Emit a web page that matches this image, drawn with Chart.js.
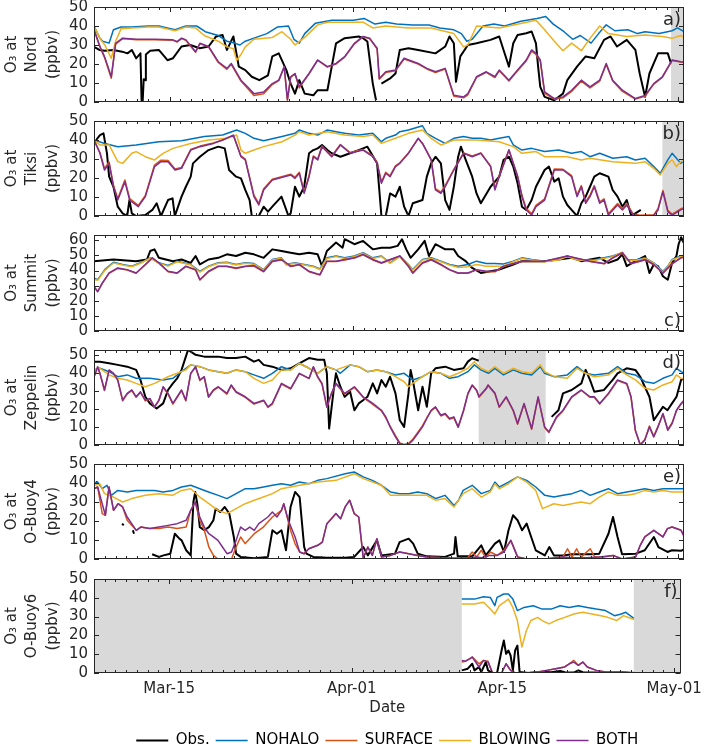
<!DOCTYPE html>
<html>
<head>
<meta charset="utf-8">
<script src="https://cdn.jsdelivr.net/npm/chart.js@4.4.0/dist/chart.umd.min.js"></script>
<style>
  body { margin: 0; background: #fff; width: 709px; height: 756px; position: relative; overflow: hidden; }
  canvas { position: absolute; left: 0; }
</style>
</head>
<body>
<script>
// x values are days since Mar-08 00:00
const labelDays = [7, 24, 38, 54];
const labelNames = ['Mar-15', 'Apr-01', 'Apr-15', 'May-01'];
const dayMin = 0;
const dayMax = 54.6;

const seriesNames = ['Obs.', 'NOHALO', 'SURFACE', 'BLOWING', 'BOTH'];
const seriesColors = ['#000000', '#0072BD', '#D95319', '#EDB120', '#7E2F8E'];

// ---- a) Nord ----
const nordObs = [[0,29],[0.5,27.4],[1.0,27],[1.8,27.4],[2.6,26.5],[3.1,25.6],[3.5,27.4],[3.9,23],[4.3,25.6],[4.4,1],[4.5,0],[4.6,12],[4.75,11.5],[4.8,25],[5.2,27],[6.0,27.4],[6.8,22],[7.3,23],[8.1,29.2],[8.9,30],[9.8,28.3],[10.6,29.2],[11.3,34.5],[11.9,35.3],[12.3,27.4],[12.9,34.5],[13.4,18.6],[14.0,16.8],[14.6,13.3],[15.3,11.5],[16.1,14],[16.5,24],[17.1,25.6],[17.8,16.8],[18.2,9.7],[18.6,4.4],[19.0,11.5],[19.5,4.4],[20.3,3.5],[20.7,6.2],[21.6,6.2],[22.0,18.6],[22.4,30.9],[23.2,33.6],[24.5,34.5],[24.9,33.6],[25.3,31.8],[25.8,9.7],[26.1,0.9],[26.2,null],[26.6,9.7],[27.4,12.4],[27.9,15],[28.3,27.4],[29.1,28.3],[30.0,27.4],[31.6,25.6],[32.5,29.2],[32.9,34.5],[33.3,30.9],[33.5,10.6],[33.9,24],[34.6,30],[35.4,30.9],[36.7,32.7],[37.5,34.5],[37.9,27.4],[38.4,18.6],[38.8,30.9],[39.2,35.3],[40.0,36.2],[40.5,37.1],[40.9,30.9],[41.1,18.6],[41.3,8],[41.7,2.7],[42.6,0.9],[43.4,4.4],[43.8,11.5],[44.7,18.6],[45.5,24],[46.3,23],[47.2,32.7],[47.8,34.5],[48.4,29.2],[49.3,32.7],[50.1,27.4],[50.5,15],[51.0,2.7],[51.4,15],[51.8,20.3],[52.2,25.6],[53.1,25.6],[53.4,20.3]];
const nordNohalo = [[0,40],[0.5,34],[0.8,32],[1.4,31],[1.8,38],[2.5,39.5],[3.5,39.5],[5,40],[6,40],[7.5,38],[8.5,40],[9.5,40],[10.3,37],[11.5,35],[12.3,32],[13,31],[13.5,30],[14,32],[15,34],[16,36],[17,39.5],[18,40],[18.5,33],[19,31],[19.5,36],[20.5,41.5],[22,43],[24,43],[25,44],[26,41],[27,42],[28,41],[29.5,40.5],[31,40.5],[32,39],[33.3,38],[34,36],[34.5,32],[35,33],[36,40],[37,41],[38,40],[39.5,42.5],[41,44],[41.8,45],[42.5,41],[43.5,37],[44.3,33],[45,35],[46,31],[46.7,36],[47.4,40.6],[48.2,37.5],[49.4,38],[50.3,36],[51,37],[52.3,36],[53.5,37.5],[54,39],[54.6,37]];
const nordSurface = [[0,38],[0.55,29],[0.97,23.5],[1.6,12.5],[2.0,30.5],[2.65,33.4],[3.9,32.8],[5.6,32.8],[7.3,32.5],[7.7,31.6],[8.1,33.4],[8.5,32.5],[9.4,26.2],[9.8,30.7],[10.6,29],[11.5,20.8],[12.3,17.2],[12.7,19.8],[13.6,11],[14.2,7.2],[14.8,3.4],[15.7,4.4],[16.5,9.2],[17.1,11.2],[17.6,18.4],[17.9,1],[18.2,13],[18.6,14.8],[19.0,7.4],[19.9,14.8],[20.7,22],[21.6,18.4],[22.4,20],[23.2,23.6],[24.1,30.6],[24.9,34.2],[25.5,33.4],[26.2,28],[26.4,12],[27.0,15.5],[27.9,16.4],[28.7,22.6],[30.0,20],[30.8,17.4],[31.6,15.5],[32.5,17.4],[33.3,3],[34.2,2.2],[34.6,3.8],[35.4,13],[36.3,15.6],[37.1,12.9],[37.5,16.4],[38.4,11],[39.2,16.4],[40.0,21.6],[40.5,26.8],[40.9,25],[41.3,21.6],[41.7,4.6],[42.6,1.5],[43.4,2.2],[44.2,5.6],[45.1,11],[45.9,7.4],[46.8,11],[47.4,19.8],[48.0,11],[48.9,5.6],[50.1,1.5],[51.0,3],[51.8,9.4],[52.6,13],[53.5,21.8],[54.3,21],[54.6,20.8]];
const nordBlowing = [[0,40],[0.6,33],[1.0,30],[1.6,23],[2.0,32],[2.5,38.5],[3.5,39],[5,39.5],[6,39.5],[7.5,37.5],[8.5,39.5],[9.4,39],[10.2,35],[11.5,32],[12.3,29],[12.9,28],[13.2,22],[13.6,25],[14,29],[14.8,33],[16.5,34],[17.4,37],[18.2,33],[18.6,30],[19.5,34],[20.7,40.6],[21.6,42],[24.9,42],[25.8,39],[27,40],[29.1,39],[31.2,39],[33.3,36],[34.2,29],[34.6,30],[35.4,40],[37.5,39],[39.6,41.5],[40.9,43],[41.7,38],[42.6,32],[43.4,27],[44.2,31],[45.1,27],[45.9,33.5],[46.8,40],[47.6,36],[49.3,34.5],[51,35.3],[52.6,34.5],[53.5,33.5],[54.3,35],[54.6,34]];
const nordBoth = [[0,38],[0.55,29.2],[0.97,23.9],[1.6,13.3],[2.0,30.9],[2.65,33.6],[3.9,33],[5.6,33],[7.3,32.7],[7.7,31.8],[8.1,33.6],[8.5,32.7],[9.4,26.5],[9.8,30.9],[10.6,29.2],[11.5,21.2],[12.3,17.7],[12.7,20.3],[13.6,11.5],[14.2,8],[14.8,4.4],[15.7,5.3],[16.5,9.7],[17.1,11.5],[17.6,18.6],[17.9,1.2],[18.2,13.3],[18.6,15],[19.0,8],[19.9,15],[20.7,22.1],[21.6,18.6],[22.4,20.3],[23.2,23.9],[24.1,30.9],[24.9,34.5],[25.5,33.6],[26.2,28.3],[26.4,12.4],[27.0,15.9],[27.9,16.8],[28.7,23],[30.0,20.3],[30.8,17.7],[31.6,15.9],[32.5,17.7],[33.3,3.5],[34.2,2.7],[34.6,4.4],[35.4,13.3],[36.3,15.9],[37.1,13.3],[37.5,16.8],[38.4,11.5],[39.2,16.8],[40.0,22.1],[40.5,27.4],[40.9,25.6],[41.3,22.1],[41.7,5.3],[42.6,1.8],[43.4,2.7],[44.2,6.2],[45.1,11.5],[45.9,8],[46.8,11.5],[47.4,20.3],[48.0,11.5],[48.9,6.2],[50.1,1.8],[51.0,3.5],[51.8,9.7],[52.6,13.3],[53.5,22.1],[54.3,21.2],[54.6,21]];
const nordShade = [[53.4, 54.6]];

// ---- b) Tiksi ----
const tiksiObs = [[0.2,40],[0.55,42.6],[0.88,43.5],[1.2,33],[1.4,20.7],[1.8,15.4],[2.2,4.9],[2.65,1.4],[3.07,0],[3.28,8.4],[3.5,1.4],[3.9,0],[4.75,0.5],[5.4,3.2],[5.8,6.7],[6.2,0],[6.85,8.4],[7.27,9.3],[7.48,0],[8.1,10.2],[8.5,15.4],[8.95,20.7],[9.16,27.7],[9.8,31.2],[10.6,34.7],[11.5,36.5],[12.1,35.6],[12.5,24.2],[13.15,20.7],[13.6,19.8],[14.0,13.7],[14.4,8.4],[14.6,0],[15.25,0],[15.7,4.9],[16.1,2.3],[16.5,4.9],[17.35,10.2],[18.0,0],[18.2,1.4],[18.6,15.4],[19.0,10.2],[19.45,15.4],[19.9,33],[20.3,34.7],[20.7,35.6],[21.1,37.4],[21.6,34.7],[22.0,33],[22.8,31.2],[23.7,33],[24.5,34.7],[25.3,36.5],[26.2,27.7],[26.6,0],[27.0,0],[27.4,11.9],[27.9,10.2],[28.3,15.4],[28.7,4.9],[29.1,0],[29.5,6.7],[30.4,8.4],[30.8,20.7],[31.2,27.7],[31.6,31.2],[32.1,27.7],[32.5,8.4],[32.9,3.2],[33.3,15.4],[33.7,31.2],[33.95,36.5],[34.4,29.5],[35.0,20.7],[35.4,11.9],[35.8,6.7],[36.7,15.4],[37.5,20.7],[37.9,29.5],[38.4,31.2],[38.8,26],[39.2,17.2],[39.6,4.9],[40.0,3.2],[40.5,8.4],[40.9,15.4],[41.7,24.2],[42.1,26],[42.6,18.1],[43.0,19.8],[43.4,10.2],[43.8,5.8],[44.2,3.2],[44.7,0],[45.1,6.7],[45.5,10.2],[45.9,15.4],[46.3,20.7],[46.8,22.5],[47.6,20.7],[48.0,13.7],[48.45,10.2],[48.9,4.9],[49.3,8.4],[49.7,0.5],[50.1,1.4],[50.6,3.2]];
const tiksiNohalo = [[0,40],[1.0,38.2],[2.2,36.5],[3.9,37.4],[6.0,39.1],[8.1,39.6],[10.2,41.8],[11.9,42.6],[13.2,45.3],[14.0,43.5],[14.8,40.9],[15.7,39.6],[17.4,41.8],[18.6,43.5],[19.0,45.3],[19.9,43.5],[20.7,42.6],[21.6,45.3],[22.4,44.4],[23.2,43.5],[24.5,42.6],[25.8,43.5],[26.6,39.1],[27.0,40.9],[27.9,42.6],[28.3,44.4],[29.1,45.3],[30.4,47.5],[30.8,43.5],[31.6,40.9],[32.5,38.2],[33.3,40.9],[34.2,41.8],[35.0,40.9],[35.8,40.9],[36.7,40],[37.5,40.9],[38.4,41.8],[38.8,37.4],[39.6,34.7],[40.5,35.6],[41.7,33.9],[43.0,34.7],[44.2,33],[45.1,33.9],[45.9,31.2],[46.8,33],[48.0,30.4],[49.3,31.2],[50.1,29.5],[51.0,30.4],[51.8,26],[52.4,22.5],[53.1,29.5],[53.5,33],[53.9,30.4],[54.3,27.7],[54.6,29]];
const tiksiSurface = [[0,40],[0.55,33.4],[0.97,25],[1.4,28.4],[1.8,16.2],[2.2,9.2],[2.86,19],[3.3,9.2],[4.1,5.6],[4.75,10.8],[5.6,26.8],[6.2,29.4],[6.85,29.2],[7.5,24.8],[8.1,25.6],[8.95,35],[9.8,36.8],[11.05,38.4],[11.9,40],[12.9,42.4],[13.6,31.6],[14.0,30],[14.8,11],[15.25,6.6],[15.7,14.4],[16.5,19.4],[18.2,22],[18.6,20.4],[19.0,23],[19.45,12.6],[19.9,21.2],[20.3,31.6],[20.7,30],[21.1,36.8],[22.0,31.6],[22.8,37.6],[23.7,33.4],[24.9,35],[25.8,31.6],[26.2,28.2],[26.6,18],[27.0,23],[27.4,21.2],[27.9,26.4],[28.3,28],[29.1,33.2],[30.0,40.8],[30.4,38.2],[31.2,29.8],[31.6,14.4],[32.1,12.6],[32.5,16],[33.3,24.6],[34.2,33.2],[35.0,31.6],[35.8,33.2],[36.7,26.4],[37.1,14.4],[37.5,21.2],[38.4,34.8],[39.2,21.2],[39.6,11],[40.0,4],[40.5,1.2],[40.9,5.6],[41.7,9],[42.6,24.8],[43.4,24.6],[44.2,21.2],[44.7,11],[45.1,16],[45.5,7.4],[45.9,11],[46.3,16],[46.8,7.4],[47.2,9],[47.6,1.2],[48.45,6.6],[48.9,4],[49.3,6.6],[49.9,1],[50.5,0.4],[51.8,0.6],[52.2,4],[52.65,13.4],[53.1,3],[53.5,1],[54.3,3.8],[54.6,4.4]];
const tiksiBlowing = [[0,40],[0.55,37.4],[1.4,37.4],[2.2,28.6],[2.65,27.7],[3.5,33],[3.9,33.9],[4.75,31.2],[5.6,29.5],[6.4,33],[7.3,35.6],[8.95,38.2],[10.6,40],[12.3,40.9],[13.2,42.6],[13.6,34.7],[14.0,33],[14.8,34.7],[15.7,36.5],[17.4,39.1],[18.6,42.6],[19.0,44.4],[19.9,42.6],[21.6,44.4],[23.2,42.6],[24.9,41.8],[25.8,42.6],[26.6,38.2],[27.9,40.9],[29.1,43.5],[30.4,45.3],[31.2,40.9],[32.1,37.4],[33.3,40],[35.4,40],[37.5,39.1],[38.8,36.5],[39.6,33],[40.9,33.9],[41.7,31.2],[43.8,31.2],[45.1,29.5],[45.9,30.4],[48.0,28.6],[50.1,27.7],[51.0,28.6],[51.8,25.1],[52.4,21.6],[53.1,27.7],[53.5,29.5],[53.9,26],[54.3,28.6],[54.6,29]];
const tiksiBoth = [[0,40],[0.55,33],[0.97,24.2],[1.4,27.7],[1.8,15.4],[2.2,8.4],[2.86,18.1],[3.3,8.4],[4.1,4.9],[4.75,10.2],[5.6,26],[6.2,28.6],[6.85,28.6],[7.5,24.2],[8.1,25.1],[8.95,34.7],[9.8,36.5],[11.05,38.2],[11.9,40],[12.9,42.6],[13.6,31.2],[14.0,29.5],[14.8,10.2],[15.25,5.8],[15.7,13.7],[16.5,18.9],[18.2,21.6],[18.6,19.8],[19.0,22.5],[19.45,11.9],[19.9,20.7],[20.3,31.2],[20.7,29.5],[21.1,36.5],[22.0,31.2],[22.8,37.4],[23.7,33],[24.9,34.7],[25.8,31.2],[26.2,27.7],[26.6,17.2],[27.0,22.5],[27.4,20.7],[27.9,26],[28.3,27.7],[29.1,33],[30.0,40.9],[30.4,38.2],[31.2,29.5],[31.6,13.7],[32.1,11.9],[32.5,15.4],[33.3,24.2],[34.2,33],[35.0,31.2],[35.8,33],[36.7,26],[37.1,13.7],[37.5,20.7],[38.4,34.7],[39.2,20.7],[39.6,10.2],[40.0,3.2],[40.5,0.5],[40.9,4.9],[41.7,8.4],[42.6,24.2],[43.4,24.2],[44.2,20.7],[44.7,10.2],[45.1,15.4],[45.5,6.7],[45.9,10.2],[46.3,15.4],[46.8,6.7],[47.2,8.4],[47.6,0.5],[48.45,5.8],[48.9,3.2],[49.3,5.8],[49.9,0.5],[50.5,0],[51.8,0.3],[52.2,3.2],[52.65,12.8],[53.1,2.3],[53.5,0.5],[54.3,3.2],[54.6,4]];
const tiksiShade = [[52.6, 54.6]];

// ---- c) Summit ----
const summitObs = [[0,46.2],[1.8,47.3],[3.9,46.2],[4.9,47.3],[5.2,52.9],[5.6,54],[6.0,48.4],[7.3,46.2],[8.1,47.3],[8.95,45.1],[9.4,49.6],[9.8,44],[10.6,47.3],[11.5,48.4],[12.3,50.7],[13.15,49.6],[14.0,51.8],[14.8,50.7],[15.7,48.4],[16.5,54],[17.35,52.9],[18.2,51.8],[19.0,50.7],[19.9,51.8],[20.7,50.7],[21.1,42.9],[21.55,52.9],[22.4,58.5],[23.0,55.1],[23.2,60.7],[24.1,57.4],[24.9,59.6],[25.8,54],[26.6,55.1],[27.4,55.1],[28.1,56.3],[28.5,60.7],[28.9,54],[29.3,48.4],[30.0,54],[30.6,59.6],[31.0,49.6],[31.6,57.4],[32.5,54],[33.3,54],[33.7,49.6],[34.4,46.2],[35.0,41.7],[35.8,38.4],[36.7,39.5],[37.5,40.6],[38.8,44],[39.6,46.2],[40.9,46.2],[41.7,46.2],[43.0,47.3],[44.2,48.4],[45.1,46.2],[45.9,47.3],[46.8,48.4],[47.6,45.1],[48.45,47.3],[48.9,50.7],[49.3,42.9],[50.1,46.2],[51.0,49.6],[51.4,38.4],[51.8,44],[52.2,42.9],[52.65,36.2],[53.1,33.9],[53.5,45.1],[53.9,49.6],[54.1,57.4],[54.33,62],[54.6,58]];
const summitNohalo = [[0,35],[0.34,34],[1.0,40.6],[1.8,45.5],[2.65,44],[3.5,42.9],[4.3,45.1],[5.2,48.4],[6.0,45.1],[6.85,43.3],[7.7,46.2],[8.95,44],[9.8,39.5],[10.6,42.9],[11.5,45.1],[12.3,45.5],[13.15,44],[14.0,45.1],[14.8,44.6],[15.7,40.6],[16.5,47.3],[17.35,48.4],[17.8,44],[18.6,45.1],[19.45,44],[20.3,42.9],[20.9,41.1],[21.55,48.4],[22.4,49.6],[23.2,48.4],[24.1,49.6],[24.9,51.8],[25.8,48.4],[26.6,49.6],[27.4,45.1],[28.3,49.6],[29.1,44],[29.5,40.6],[30.4,47.3],[31.2,48.4],[32.1,46.2],[32.9,44],[33.7,42.9],[34.6,44],[35.4,46.2],[36.3,44.6],[37.1,44.6],[37.9,44.4],[38.8,46.2],[39.6,48.4],[40.5,47.3],[41.7,46.2],[43.0,47.3],[43.8,49.6],[44.7,47.3],[45.5,46.9],[46.3,46.9],[47.2,48.4],[48.0,49.6],[48.9,51.8],[49.3,47.3],[50.1,46.9],[51.0,48.4],[51.8,45.1],[52.65,39.5],[53.1,42.9],[53.5,47.3],[54.3,49.6],[54.6,50]];
const summitSurface = [[0,29.2],[0.34,26],[0.76,31.4],[1.4,38.2],[2.2,41.4],[3.07,40.4],[3.9,38.2],[4.75,43.8],[5.4,48.2],[6.0,44.8],[6.85,39.2],[7.7,38.2],[8.5,42.6],[9.4,40.4],[9.8,33.8],[10.6,39.2],[11.5,42.6],[12.3,42.6],[13.15,41.4],[14.0,42.6],[14.8,43],[15.7,39.2],[16.5,46],[17.35,47],[18.2,42.6],[19.0,43.8],[19.9,39.2],[20.9,37],[21.55,46],[22.4,46],[23.2,47],[24.1,48.2],[24.9,50.4],[25.8,47],[26.6,44.8],[27.4,47],[28.3,49.4],[29.1,42.6],[29.5,38.2],[30.4,44.8],[31.2,47],[32.1,43.8],[32.9,40.4],[33.7,38.2],[34.6,38.2],[35.4,40.4],[36.3,39.2],[37.1,39.2],[37.9,42.6],[38.8,44.4],[39.6,46],[41.7,46],[43.8,49.4],[45.9,46],[47.2,44.4],[48.0,48.2],[48.9,51.6],[49.7,44.4],[51.0,47],[51.8,43.8],[52.65,38.2],[53.5,44.4],[54.3,48.2],[54.6,48.8]];
const summitBlowing = [[0,34],[0.34,33.5],[1.0,40],[1.8,45],[2.65,43.6],[3.5,42.5],[4.3,44.8],[5.2,48.2],[6.0,44.8],[6.85,42.9],[7.7,45.8],[8.95,43.6],[9.8,39],[10.6,42.5],[11.5,44.8],[12.3,45.1],[13.15,43.6],[14.0,44.8],[14.8,44.2],[15.7,40.2],[16.5,47],[17.35,48.2],[17.8,43.6],[18.6,44.8],[19.45,43.6],[20.3,42.5],[20.9,40.6],[21.55,48],[22.4,49.2],[23.2,48],[24.1,49.2],[24.9,51.4],[25.8,48],[26.6,49.2],[27.4,44.8],[28.3,49.2],[29.1,43.6],[29.5,40.2],[30.4,47],[31.2,48],[32.1,45.8],[32.9,43.6],[33.7,42],[34.6,42.5],[35.4,44],[36.3,42.9],[37.1,42.9],[37.9,43],[38.8,45.8],[39.6,48],[40.5,47],[41.7,45.8],[43.0,47],[43.8,49.2],[44.7,47],[45.5,46.6],[46.3,46.6],[47.2,48],[48.0,49.2],[48.9,52.2],[49.3,47],[50.1,46.6],[51.0,48],[51.8,44.8],[52.65,39],[53.1,42.5],[53.5,47],[54.3,49.2],[54.6,49.6]];
const summitBoth = [[0,29.5],[0.34,26.1],[0.76,31.7],[1.4,38.4],[2.2,41.7],[3.07,40.6],[3.9,38.4],[4.75,44],[5.4,48.4],[6.0,45.1],[6.85,39.5],[7.7,38.4],[8.5,42.9],[9.4,40.6],[9.8,33.9],[10.6,39.5],[11.5,42.9],[12.3,42.9],[13.15,41.7],[14.0,42.9],[14.8,43.3],[15.7,39.5],[16.5,46.2],[17.35,47.3],[18.2,42.9],[19.0,44],[19.9,39.5],[20.9,37.3],[21.55,46.2],[22.4,46.2],[23.2,47.3],[24.1,48.4],[24.9,50.7],[25.8,47.3],[26.6,45.1],[27.4,47.3],[28.3,49.6],[29.1,42.9],[29.5,38.4],[30.4,45.1],[31.2,47.3],[32.1,44],[32.9,40.6],[33.7,38.4],[34.6,38.4],[35.4,40.6],[36.3,39.5],[37.1,39.5],[37.9,42.9],[38.8,44.6],[39.6,46.2],[41.7,46.2],[43.8,49.6],[45.9,46.2],[47.2,44.6],[48.0,48.4],[48.9,51.8],[49.7,44.6],[51.0,47.3],[51.8,44],[52.65,38.4],[53.5,44.6],[54.3,48.4],[54.6,49]];
const summitShade = [];

// ---- d) Zeppelin ----
const zepObs = [[0,46.5],[0.55,46.5],[1.4,45.6],[2.2,44.7],[3.07,43.7],[3.9,41.9],[4.3,36.3],[4.75,26.9],[5.17,23.2],[5.6,21.3],[5.8,20.4],[6.4,23.2],[6.85,30.7],[7.3,34.4],[7.7,37.2],[8.1,41.9],[8.5,49.3],[8.7,53],[8.95,52.1],[9.4,50.3],[10.2,49.3],[11.5,49.3],[12.3,48.5],[13.15,48.5],[14.0,49.3],[14.8,46.5],[15.25,47.5],[15.7,44.7],[16.5,43.7],[17.35,41.9],[18.2,42.8],[19.0,45.6],[19.9,48.5],[20.7,47.6],[21.3,47.6],[21.55,40],[21.76,9.2],[21.97,20],[22.18,30.7],[22.39,40],[22.8,32.5],[23.2,26.9],[23.7,29.7],[24.1,19.4],[24.5,23.2],[24.9,25],[25.3,26.9],[25.8,34.4],[26.2,28.8],[26.6,36.3],[27.0,32.5],[27.4,38.1],[27.9,28.8],[28.3,13.8],[28.7,10.1],[29.1,28.8],[29.3,41.9],[29.5,36.3],[30.0,19.4],[30.4,32.5],[30.8,21.3],[31.2,40],[31.6,42.8],[32.5,43.7],[33.3,41.9],[34.2,42.8],[34.6,46.5],[35.0,48.4],[35.4,47.5],[35.6,47],[35.65,null],[42.35,15.7],[42.98,19.4],[43.4,28.8],[44.2,30.7],[45.1,34.4],[45.5,41.9],[45.9,36.3],[46.3,29.7],[47.2,30.7],[48.0,36.3],[48.45,40],[49.3,42.8],[50.1,41.9],[50.55,38.1],[50.97,32.5],[51.4,26.9],[51.81,13.8],[52.23,17.6],[52.65,21.3],[53.07,19.4],[53.49,23.2],[53.91,26.9],[54.33,36.3],[54.6,37]];
const zepNohalo = [[0,41.9],[0.55,42.8],[1.4,40.9],[2.2,38.1],[3.07,39.1],[3.9,37.2],[5.17,37.2],[6.4,36.3],[7.3,37.2],[8.1,40.9],[8.95,44.7],[9.8,43.7],[10.6,41.9],[11.5,40.9],[12.3,40],[13.15,41.9],[14.0,40.9],[14.8,39.1],[15.7,37.2],[16.5,40],[17.35,43.7],[18.2,41.9],[19.0,45.6],[19.9,42.8],[20.7,40],[21.55,43.7],[22.4,41.9],[22.8,40],[23.7,44.7],[24.5,43.7],[25.3,40.9],[26.2,41.9],[27.0,40.9],[27.9,39.1],[28.7,40],[29.5,36.3],[30.4,38.1],[31.2,40.9],[32.1,40],[32.9,37.2],[33.7,38.1],[34.6,40.9],[35.2,44.7],[35.8,41.9],[36.5,40],[37.1,42.8],[37.9,39.1],[38.8,41.9],[39.6,40],[40.5,39.1],[41.3,43.7],[41.7,40],[42.6,38.1],[43.8,39.1],[44.7,43.7],[45.5,40],[46.3,39.1],[47.6,40],[48.45,43.7],[49.3,40],[50.1,39.1],[51.0,35.3],[51.8,34.4],[52.65,37.2],[53.5,39.1],[53.9,42.8],[54.33,40.9],[54.6,40]];
const zepSurface = [[0,37.8],[0.34,43.4],[0.55,39.8],[0.97,30.4],[1.4,41.6],[1.8,39.8],[2.2,36],[2.65,24.6],[3.07,28.4],[3.5,30.4],[3.9,26.6],[4.3,29.4],[4.75,24.6],[5.17,25.6],[5.6,21],[6.0,24.6],[6.4,32.2],[6.85,28.4],[7.3,22.8],[7.7,26.6],[8.1,30.4],[8.5,24.6],[8.95,39.8],[9.4,43.4],[9.8,36],[10.2,37.8],[10.6,26.6],[11.05,30.4],[11.5,32.2],[12.3,28.4],[12.7,33.2],[13.15,29.4],[14.0,26.6],[14.8,22.8],[15.7,24.6],[16.1,21],[16.5,22.8],[17.35,34],[18.2,31.2],[19.0,39.8],[19.9,37],[20.3,43.4],[20.7,37.8],[21.1,34],[21.55,21],[21.97,28.4],[22.39,34],[23.2,28.4],[24.1,32.2],[24.9,26.6],[25.8,22.6],[26.6,19],[27.0,15.2],[27.4,10.6],[27.9,5.2],[28.3,1.2],[28.7,0.3],[29.1,0.8],[29.5,3.2],[29.96,7],[30.4,10.8],[30.8,15.2],[31.2,19],[31.6,21],[32.1,16.2],[32.5,17.2],[32.9,14.4],[33.3,15.2],[33.7,9.8],[34.2,19],[34.6,28.4],[35.0,33.2],[35.4,30.4],[35.63,26.6],[36.3,31.2],[36.47,33.2],[37.1,28.6],[37.5,21],[38.15,26.6],[38.8,19],[39.2,11.6],[39.8,22.8],[40.5,8.8],[41.1,26.6],[41.7,9.8],[42.1,7],[42.8,15.2],[43.4,19],[44.2,26.6],[45.1,30.4],[45.9,26.6],[46.3,26.6],[46.8,22.8],[47.6,28.4],[48.45,36],[49.3,34],[49.7,26.6],[50.1,8],[50.55,0.3],[50.97,3],[51.4,10.6],[51.8,4.8],[52.2,10.6],[52.65,17.2],[53.1,8.6],[53.5,12.4],[53.9,19],[54.33,22.8],[54.6,24.6]];
const zepBlowing = [[0,41.9],[0.55,42.8],[1.4,39.1],[2.2,37.2],[3.07,36.3],[3.9,34.4],[4.75,32.5],[5.6,34.4],[6.85,38.1],[7.7,40],[8.5,41.9],[8.95,44.7],[9.8,43.7],[10.6,41.9],[11.5,40.9],[12.3,40],[13.15,41.9],[14.0,40.9],[14.8,37.2],[15.7,34.4],[16.5,36.3],[17.35,41.9],[18.2,41.9],[19.0,45.6],[19.9,42.8],[20.7,40],[21.55,43.7],[22.4,41.9],[23.7,44.7],[24.5,43.7],[25.3,40.9],[26.2,41.9],[27.0,40.9],[27.9,38.1],[28.7,35.3],[29.1,32.5],[29.5,34.4],[30.4,38.1],[31.2,40.9],[32.1,40],[32.9,38.1],[33.7,40],[34.6,42.8],[35.2,46.5],[35.8,42.8],[36.5,40.9],[37.1,43.7],[37.9,40],[38.8,42.8],[39.6,40.9],[40.5,40],[41.3,44.7],[41.7,40.9],[42.6,38.1],[43.8,37.2],[44.7,42.8],[45.5,40],[46.3,38.1],[47.6,39.1],[48.45,42.8],[49.3,39.1],[50.1,36.3],[51.0,31.6],[51.8,30.7],[52.65,33.5],[53.5,35.3],[53.9,39.1],[54.33,37.2],[54.6,37]];
const zepBoth = [[0,38.1],[0.34,43.7],[0.55,40],[0.97,30.7],[1.4,41.9],[1.8,40],[2.2,36.3],[2.65,25],[3.07,28.8],[3.5,30.7],[3.9,26.9],[4.3,29.7],[4.75,25],[5.17,26],[5.6,21.3],[6.0,25],[6.4,32.5],[6.85,28.8],[7.3,23.2],[7.7,26.9],[8.1,30.7],[8.5,25],[8.95,40],[9.4,43.7],[9.8,36.3],[10.2,38.1],[10.6,26.9],[11.05,30.7],[11.5,32.5],[12.3,28.8],[12.7,33.5],[13.15,29.7],[14.0,26.9],[14.8,23.2],[15.7,25],[16.1,21.3],[16.5,23.2],[17.35,34.4],[18.2,31.6],[19.0,40],[19.9,37.2],[20.3,43.7],[20.7,38.1],[21.1,34.4],[21.55,21.3],[21.97,28.8],[22.39,34.4],[23.2,28.8],[24.1,32.5],[24.9,26.9],[25.8,23.2],[26.6,19.4],[27.0,15.7],[27.4,10.1],[27.9,4.5],[28.3,0.7],[28.7,0],[29.1,0.4],[29.5,2.6],[29.96,6.4],[30.4,10.1],[30.8,14.8],[31.2,19.4],[31.6,21.3],[32.1,16.6],[32.5,17.6],[32.9,14.8],[33.3,15.7],[33.7,10.1],[34.2,19.4],[34.6,28.8],[35.0,33.5],[35.4,30.7],[35.63,27],[36.3,31.6],[36.47,33.5],[37.1,29],[37.5,21.3],[38.15,26.9],[38.8,19.4],[39.2,12],[39.8,23.2],[40.5,9.2],[41.1,26.9],[41.7,10.1],[42.1,7.3],[42.8,15.7],[43.4,19.4],[44.2,26.9],[45.1,30.7],[45.9,26.9],[46.3,26.9],[46.8,23.2],[47.6,28.8],[48.45,36.3],[49.3,34.4],[49.7,26.9],[50.1,8.2],[50.55,0],[50.97,2.6],[51.4,10.1],[51.8,4.5],[52.2,10.1],[52.65,17.6],[53.1,8.2],[53.5,12],[53.9,19.4],[54.33,23.2],[54.6,25]];
const zepShade = [[35.6, 41.8]];

// ---- e) O-Buoy4 ----
const buoy4Obs = [[0.2,40.5],[0.25,39.6],[0.3,null],[2.6,18.6],[2.75,17.7],[2.8,null],[3.6,15.1],[3.7,13.3],[3.75,null],[5.38,2.5],[6.01,1.1],[6.43,1.9],[7.06,2.8],[7.48,13.3],[7.9,10.7],[8.11,9.8],[8.53,4.6],[8.95,1.9],[9.2,30],[9.37,35.3],[9.58,28.2],[9.79,16.8],[10.21,15.1],[10.63,16.8],[11.05,20.4],[11.26,26.5],[11.68,24.7],[12.1,27.4],[12.52,23.9],[12.94,11.6],[13.15,2.8],[13.57,1.1],[14.83,0.4],[16.09,1.1],[16.51,15.1],[16.93,13.3],[17.35,15.1],[17.77,4.6],[18.19,27.4],[18.61,35.3],[19.03,32.6],[19.45,6.3],[19.66,2.8],[20.29,1.1],[21.55,0.7],[23.24,0.7],[24.08,1.1],[24.92,6.3],[25.34,1.9],[26.18,9.8],[26.6,1.9],[27.86,2.8],[28.28,8.9],[29.12,10.7],[29.54,8.1],[29.96,2.8],[30.8,1.4],[32.48,1.1],[33.32,2.8],[33.45,11.6],[33.66,1.4],[35.0,1.4],[35.84,7.2],[36.26,1.9],[37.1,8.1],[37.52,9.8],[37.94,3.7],[38.36,15.1],[38.78,23],[39.2,20.4],[39.62,15.1],[40.04,18.6],[40.46,11.6],[40.88,4.6],[41.72,1.9],[42.14,6.3],[42.56,1.9],[43.4,1.9],[44.24,2.5],[45.92,2.5],[46.76,2.8],[47.61,13.3],[48.03,22.1],[48.45,11.6],[48.87,2.5],[50.13,2.8],[50.97,4.6],[51.81,11.6],[52.23,6.3],[53.07,3.7],[53.49,4.6],[54.33,4.3],[54.6,5]];
const buoy4Nohalo = [[0,39.6],[0.34,40.5],[0.76,37],[1.2,38.8],[1.6,33.5],[2.2,36.1],[3.07,35.3],[3.9,36.1],[4.75,36.1],[5.6,36.1],[6.4,35.3],[7.3,36.1],[8.1,37.9],[8.95,38.8],[9.8,37],[10.6,35.3],[11.5,33.5],[12.3,31.8],[13.15,34.4],[14.0,37],[14.8,37],[15.7,37.9],[16.5,38.8],[17.35,39.6],[18.2,38.8],[19.0,40.5],[19.9,39.6],[20.7,41.4],[21.55,42.3],[23.24,44.9],[24.08,45.8],[24.92,43.2],[25.76,41.4],[26.6,38.8],[27.44,35.3],[28.28,34.4],[29.12,34.4],[29.96,35.3],[30.8,34.4],[31.64,31.8],[32.48,33.5],[33.32,28.2],[33.74,30.9],[34.16,36.1],[35.0,38.8],[35.84,34.4],[36.68,36.1],[37.1,40.5],[37.52,37.9],[38.36,40.5],[39.2,43.2],[40.04,41.4],[40.88,37.9],[41.72,33.5],[42.56,32.6],[43.4,33.5],[44.24,34.4],[45.08,36.1],[45.92,33.5],[46.76,35.3],[47.61,37],[48.45,34.4],[49.29,35.3],[50.13,36.1],[50.97,37],[51.81,36.1],[52.65,37],[53.49,37],[54.33,37],[54.6,37]];
const buoy4Surface = [[0,37],[0.34,37.9],[0.76,23.9],[1.05,23],[1.39,37.9],[1.81,25.6],[2.23,29.1],[2.65,27.4],[3.07,20.4],[3.49,17.7],[3.91,15.1],[4.33,16.8],[5.17,16],[6.01,16],[6.85,16.8],[7.69,16],[8.53,16.8],[8.95,25.6],[9.37,30],[9.79,20.4],[10.21,15.1],[10.63,6.3],[11.05,1.9],[11.47,0],[12.31,0],[12.73,0],[13.15,6.3],[13.57,11.6],[13.99,8.1],[14.83,13.3],[15.67,16.8],[16.51,22.1],[17.35,25.6],[17.56,29.1],[18.19,15.1],[18.61,8],[19.03,3.7],[19.45,2.8],[19.87,5.4],[20.71,7.2],[21.13,8.9],[21.55,18.6],[21.97,21.2],[22.39,23.9],[22.82,21.2],[23.24,27.4],[23.66,30.9],[24.08,23.9],[24.5,22.1],[24.92,0.4],[25.34,6.3],[25.76,1.9],[26.18,10.7],[26.6,1.1],[27.44,1.9],[28.28,3.7],[29.12,2.8],[29.96,1.9],[30.8,1.1],[33.32,0.4],[34.58,0.7],[35.0,3.7],[35.42,1.1],[35.84,4.6],[36.26,0.7],[36.68,3.7],[37.31,1.9],[37.94,4.6],[38.57,9.8],[39.2,1.1],[40.04,0],[41.72,0],[43.4,1.1],[43.82,5.4],[44.24,1],[44.66,5.4],[45.08,1],[45.92,5.4],[46.34,1],[47.18,1.1],[48.03,1.9],[48.87,0],[50.13,1.1],[50.55,7.2],[50.97,11.6],[51.81,15.1],[52.65,11.6],[53.07,16],[53.49,16.8],[54.33,15.1],[54.6,12]];
const buoy4Blowing = [[0,38.8],[0.55,39.6],[0.97,34.4],[1.8,32.6],[2.65,30],[3.5,31.8],[4.75,33.5],[6.0,34.4],[7.27,33.5],[8.11,36.1],[8.95,37],[9.79,32.6],[10.63,29.1],[11.47,25.6],[12.31,23.9],[13.15,26.5],[13.99,29.1],[14.83,30.9],[15.67,32.6],[16.51,34.4],[17.35,37],[19.03,38.8],[20.71,40.5],[22.39,41.4],[24.08,44.9],[24.92,42.3],[26.6,38.8],[27.44,33.5],[29.12,33.5],[30.8,33.5],[31.64,30.9],[32.48,31.8],[33.32,27.4],[34.16,34.4],[35.0,37],[35.84,32.6],[36.68,35.3],[37.1,39.6],[37.52,37],[38.36,39.6],[39.2,43.2],[40.04,40.5],[40.88,36.1],[41.51,26.5],[42.56,29.1],[43.4,28.2],[44.24,29.1],[45.08,30],[45.92,29.1],[46.76,32.6],[47.61,35.3],[48.45,33.5],[49.29,33.5],[50.13,34.4],[50.97,36.1],[51.81,35.3],[52.65,36.1],[53.49,35.3],[54.33,35.3],[54.6,35.3]];
const buoy4Both = [[0,37],[0.34,37.9],[0.76,29.1],[1.05,23],[1.39,37.9],[1.81,25.6],[2.23,29.1],[2.65,27.4],[3.07,22.1],[3.49,18.6],[3.91,15.1],[4.33,16.8],[5.17,16],[6.01,16.8],[6.85,17.7],[7.69,18.6],[8.53,20.4],[8.95,25.6],[9.37,30],[9.79,22.1],[10.21,16.8],[10.63,13.3],[11.05,11.6],[11.47,9.8],[11.89,6.3],[12.31,2.8],[12.73,3.7],[13.15,9.8],[13.57,16.8],[13.99,15.1],[14.41,16.8],[14.83,15.1],[15.25,18.6],[16.09,22.1],[16.51,24.7],[16.93,22.1],[17.35,25.6],[17.56,29.1],[17.98,20.4],[18.61,11.6],[19.03,3.7],[19.45,2.8],[19.87,5.4],[20.71,7.2],[21.13,8.9],[21.55,18.6],[21.97,21.2],[22.39,23.9],[22.82,21.2],[23.24,27.4],[23.66,30.9],[24.08,23.9],[24.5,22.1],[24.92,0.4],[25.34,6.3],[25.76,1.9],[26.18,10.7],[26.6,1.1],[27.44,1.9],[28.28,3.7],[29.12,2.8],[29.96,1.9],[30.8,1.1],[33.32,0.4],[34.58,0.7],[35.42,1.1],[35.84,0.7],[36.68,1.9],[37.31,1.9],[37.94,3.7],[38.57,9.8],[39.2,1.1],[40.04,0],[41.72,0],[43.4,1.1],[44.24,0.7],[45.5,0.7],[46.76,1.1],[48.03,1.9],[48.87,0],[50.13,1.1],[50.55,7.2],[50.97,11.6],[51.81,15.1],[52.65,11.6],[53.07,16],[53.49,16.8],[54.33,15.1],[54.6,12]];
const buoy4Shade = [];

// ---- f) O-Buoy6 ----
const buoy6Obs = [[34.24,1.4],[34.79,2.3],[35.21,4.9],[35.42,1.4],[35.84,3.2],[36.05,0.5],[36.47,5.8],[36.68,1.4],[37.1,0],[37.52,0],[37.94,12],[38.15,17.3],[38.36,10.2],[38.57,12],[38.78,9.3],[38.99,1.4],[39.2,12],[39.41,14.6],[39.62,0.5],[40.46,0],[41.72,0.5],[42.56,0.4],[43.4,1.1],[43.82,0.4],[44.66,0.2],[45.08,1.4],[45.5,0.4],[46.76,0.2],[48.45,0.2],[50.13,0],[50.25,0]];
const buoy6Nohalo = [[34.24,39.3],[35.42,39.3],[36.26,40.6],[36.89,40.2],[37.31,35.8],[37.52,40.2],[38.15,42],[38.57,42],[38.99,39.3],[39.41,33.2],[40.04,34.9],[40.88,35.8],[41.72,34],[42.56,34],[43.4,35.8],[44.24,34.9],[45.08,35.8],[45.92,34.9],[46.76,34],[47.61,33.2],[48.45,30.5],[49.08,31.4],[49.5,32.3],[50.13,29.6],[50.25,29]];
const buoy6Surface = [[34.24,5.8],[34.58,6.3],[35.0,7.6],[35.21,8.5],[35.84,4.9],[36.26,6.7],[36.68,6.3],[37.1,0],[37.94,0],[38.36,4.9],[38.78,1.4],[39.2,0],[40.04,0],[41.3,0.5],[42.14,1.4],[42.98,2.3],[43.82,3.2],[44.24,4.9],[44.66,6.7],[45.08,4.1],[45.5,5.8],[45.92,3.2],[46.76,1.4],[47.61,0.5],[48.45,0.4],[49.29,0.5],[50.13,0.2],[50.25,0.2]];
const buoy6Blowing = [[34.24,36.7],[35.42,36.7],[36.26,37.6],[36.89,34],[37.31,31.4],[37.73,35.8],[38.36,38.4],[38.57,39.3],[38.99,34.9],[39.41,27.9],[39.83,13.8],[40.25,22.6],[40.67,27.9],[41.3,29.6],[41.72,27.9],[42.35,26.1],[42.98,27.9],[43.82,29.6],[44.66,31.4],[45.5,32.3],[46.34,31.4],[47.18,30.5],[47.82,29.6],[48.66,27.9],[49.29,30.5],[50.13,28.7],[50.25,28.5]];
const buoy6Both = [[34.24,6.7],[34.58,6.3],[35.0,7.6],[35.21,8.5],[35.84,3.2],[36.26,6.7],[36.68,5.8],[37.1,0],[37.94,0],[38.36,4.9],[38.78,1.4],[39.2,0],[40.04,0],[41.3,0.5],[42.14,1.4],[42.98,2.3],[43.82,3.2],[44.24,4.9],[44.66,5.8],[45.08,4.1],[45.5,5.8],[45.92,3.2],[46.76,1.4],[47.61,0.5],[48.45,0.4],[49.29,0.5],[50.13,0.2],[50.25,0.2]];
const buoy6Shade = [[0, 34.24], [50.25, 54.6]];

const yTicks50 = [0, 10, 20, 30, 40, 50];
const yTicks60 = [0, 10, 20, 30, 40, 50, 60];

const FONT = 'DejaVu Sans';
const AXIS_COLOR = '#262626';
// Chart.js reserves this much above/below the plot for the end tick labels
const EDGE_PAD = 15;

// panel layout: plot box top/bottom in page pixels
const panels = [
  { station: 'Nord', tag: 'a)', tagAt: 'top', top: 7, bottom: 102, yMax: 50, yTicks: yTicks50, shade: nordShade,
    series: [nordObs, nordNohalo, nordSurface, nordBlowing, nordBoth] },
  { station: 'Tiksi', tag: 'b)', tagAt: 'top', top: 121, bottom: 216, yMax: 50, yTicks: yTicks50, shade: tiksiShade,
    series: [tiksiObs, tiksiNohalo, tiksiSurface, tiksiBlowing, tiksiBoth] },
  { station: 'Summit', tag: 'c)', tagAt: 'bottom', top: 235, bottom: 331, yMax: 63.5, yTicks: yTicks60, shade: summitShade,
    series: [summitObs, summitNohalo, summitSurface, summitBlowing, summitBoth] },
  { station: 'Zeppelin', tag: 'd)', tagAt: 'top', top: 350, bottom: 445, yMax: 53, yTicks: yTicks50, shade: zepShade,
    series: [zepObs, zepNohalo, zepSurface, zepBlowing, zepBoth] },
  { station: 'O-Buoy4', tag: 'e)', tagAt: 'top', top: 464, bottom: 559, yMax: 50, yTicks: yTicks50, shade: buoy4Shade,
    series: [buoy4Obs, buoy4Nohalo, buoy4Surface, buoy4Blowing, buoy4Both] },
  { station: 'O-Buoy6', tag: 'f)', tagAt: 'top', top: 579, bottom: 673, yMax: 50, yTicks: yTicks50, shade: buoy6Shade,
    series: [buoy6Obs, buoy6Nohalo, buoy6Surface, buoy6Blowing, buoy6Both] },
];

/**
 * Grey boxes behind the lines (periods without data)
 */
const shadePlugin = {
  id: 'shade',
  beforeDatasetsDraw(chart, args, opts) {
    const { ctx, chartArea, scales: { x } } = chart;
    ctx.save();
    ctx.fillStyle = '#d9d9d9';
    (opts.ranges || []).forEach(([a, b]) => {
      const x0 = Math.max(chartArea.left, x.getPixelForValue(a));
      const x1 = Math.min(chartArea.right, x.getPixelForValue(b));
      ctx.fillRect(x0, chartArea.top, x1 - x0, chartArea.bottom - chartArea.top);
    });
    ctx.restore();
  },
};

/**
 * MATLAB-like box with inward ticks, plus the panel letter
 */
const framePlugin = {
  id: 'frame',
  afterDraw(chart, args, opts) {
    const { ctx, chartArea: { top, bottom, left, right }, scales: { x, y } } = chart;
    ctx.save();
    ctx.strokeStyle = AXIS_COLOR;
    ctx.lineWidth = 1;
    ctx.beginPath();
    y.ticks.forEach((t) => {
      const py = Math.round(y.getPixelForValue(t.value)) + 0.5;
      ctx.moveTo(left, py); ctx.lineTo(left + 5, py);
      ctx.moveTo(right, py); ctx.lineTo(right - 5, py);
    });
    for (let d = Math.ceil(dayMin); d <= dayMax; d++) {
      const px = Math.round(x.getPixelForValue(d)) + 0.5;
      const len = labelDays.includes(d) ? 5 : 3;
      ctx.moveTo(px, bottom); ctx.lineTo(px, bottom - len);
      ctx.moveTo(px, top); ctx.lineTo(px, top + len);
    }
    ctx.stroke();
    ctx.strokeRect(Math.round(left) + 0.5, Math.round(top) + 0.5, Math.round(right - left) - 1, Math.round(bottom - top) - 1);

    ctx.fillStyle = AXIS_COLOR;
    ctx.font = `18px "${FONT}"`;
    ctx.textAlign = 'right';
    ctx.textBaseline = 'alphabetic';
    const ty = opts.tagAt === 'bottom' ? bottom - 5 : top + 18;
    ctx.fillText(opts.tag, right - 3, ty);
    ctx.restore();
  },
};

function makePanel(p, isLast) {
  const canvas = document.createElement('canvas');
  const canvasTop = p.top - EDGE_PAD;
  // last panel: x labels + "Date" (54px) and legend (30px) below the plot
  const height = isLast ? (p.bottom - p.top) + EDGE_PAD + 54 + 30 : (p.bottom - p.top) + 2 * EDGE_PAD;
  canvas.width = 709;
  canvas.height = height;
  canvas.style.top = canvasTop + 'px';
  canvas.style.width = '709px';
  canvas.style.height = height + 'px';
  document.body.appendChild(canvas);

  const datasets = p.series.map((arr, i) => ({
    label: seriesNames[i],
    data: arr.map(([x, y]) => ({ x, y })),
    borderColor: seriesColors[i],
    backgroundColor: seriesColors[i],
    borderWidth: i === 0 ? 2 : 1.5,
    pointRadius: 0,
    tension: 0,
    spanGaps: false,
    borderJoinStyle: 'round',
    order: 4 - i,
  }));

  const xScale = {
    type: 'linear',
    min: dayMin,
    max: dayMax,
    display: isLast,
    grid: { display: false, drawTicks: false },
    border: { display: false },
    afterBuildTicks: (scale) => { scale.ticks = labelDays.map((v) => ({ value: v })); },
    ticks: {
      autoSkip: false,
      maxRotation: 0,
      padding: 7,
      color: AXIS_COLOR,
      font: { family: FONT, size: 15 },
      callback: (v) => labelNames[labelDays.indexOf(v)],
    },
    title: {
      display: true,
      text: 'Date',
      color: AXIS_COLOR,
      font: { family: FONT, size: 15 },
      padding: { top: 1, bottom: 10 },
    },
  };
  if (isLast) xScale.afterFit = (scale) => { scale.height = 54; };

  return new Chart(canvas, {
    type: 'line',
    data: { datasets },
    options: {
      responsive: false,
      animation: false,
      devicePixelRatio: 1,
      events: [],
      layout: { padding: { top: EDGE_PAD, bottom: isLast ? 0 : EDGE_PAD, left: 0, right: 25 } },
      scales: {
        x: xScale,
        y: {
          min: 0,
          max: p.yMax,
          grid: { display: false, drawTicks: false },
          border: { display: false },
          afterBuildTicks: (scale) => { scale.ticks = p.yTicks.map((v) => ({ value: v })); },
          afterFit: (scale) => { scale.width = 94; },
          ticks: {
            autoSkip: false,
            padding: 6,
            color: AXIS_COLOR,
            font: { family: FONT, size: 15 },
          },
          title: {
            display: true,
            text: ['O\u2083 at', p.station, '(ppbv)'],
            color: AXIS_COLOR,
            font: { family: FONT, size: 15, lineHeight: 1.35 },
            padding: { top: 2, bottom: 0 },
          },
        },
      },
      plugins: {
        legend: {
          display: isLast,
          position: 'bottom',
          fullSize: false,
          maxHeight: 30,
          labels: {
            usePointStyle: true,
            pointStyle: 'line',
            pointStyleWidth: 32,
            padding: 6,
            color: '#000',
            font: { family: FONT, size: 15 },
            sort: (a, b) => a.datasetIndex - b.datasetIndex,
          },
        },
        tooltip: { enabled: false },
        shade: { ranges: p.shade },
        frame: { tag: p.tag, tagAt: p.tagAt },
      },
    },
    plugins: [shadePlugin, framePlugin],
  });
}

panels.forEach((p, i) => makePanel(p, i === panels.length - 1));
</script>
</body>
</html>
